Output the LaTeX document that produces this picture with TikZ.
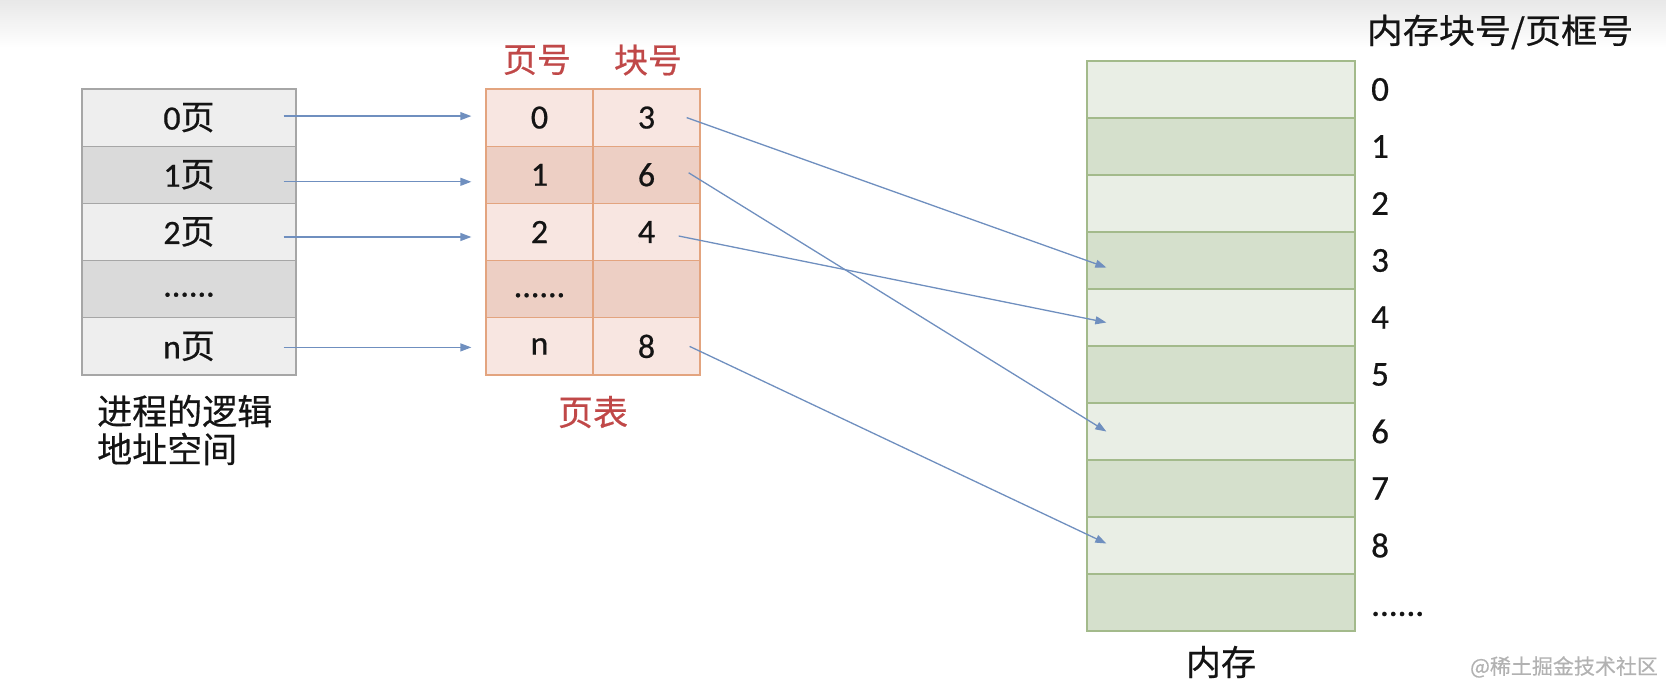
\documentclass[tikz,border=0pt]{standalone}
\usepackage{fontspec}
\setmainfont{Carlito}[FakeBold=0.6]
\newfontfamily\cjk{Noto Sans CJK SC}[FakeBold=0.5]
\usetikzlibrary{arrows.meta}
\definecolor{lgfill}{RGB}{238,238,238}
\definecolor{dgfill}{RGB}{218,218,218}
\definecolor{gborder}{RGB}{166,166,166}
\definecolor{lpfill}{RGB}{248,230,225}
\definecolor{dpfill}{RGB}{237,207,196}
\definecolor{pborder}{RGB}{227,164,127}
\definecolor{lmfill}{RGB}{233,238,229}
\definecolor{dmfill}{RGB}{213,224,204}
\definecolor{mborder}{RGB}{163,186,139}
\definecolor{hdred}{RGB}{192,72,72}
\definecolor{arrblue}{RGB}{111,143,191}
\definecolor{txt}{RGB}{20,20,20}
\begin{document}
\begin{tikzpicture}[x=1pt,y=-1pt,
  cell/.style={draw, line width=1.3pt, minimum height=57.2pt, inner sep=0pt,
    text=txt, font=\fontsize{34}{34}\selectfont},
  lcell/.style={cell, draw=gborder, minimum width=214pt},
  pcell/.style={cell, draw=pborder, minimum width=107pt},
  mcell/.style={cell, draw=mborder, minimum width=268pt, minimum height=57pt},
  lbl/.style={inner sep=0pt, text=txt, font=\fontsize{35}{35}\selectfont\cjk},
  hdr/.style={inner sep=0pt, text=hdred, font=\fontsize{34}{34}\selectfont\cjk},
  num/.style={inner sep=0pt, anchor=west, text=txt, font=\fontsize{35}{35}\selectfont},
  arr/.style={draw=arrblue, line width=1.3pt, -{Triangle[length=11pt,width=8pt]}},
]
\useasboundingbox (0,0) rectangle (1666,682);
\fill[top color=black!9, bottom color=white] (0,0) rectangle (1666,48);

% logical address space
\node[lcell, fill=lgfill] (L0) at (189,117.6) {0{\cjk 页}};
\node[lcell, fill=dgfill] (L1) at (189,174.8) {1{\cjk 页}};
\node[lcell, fill=lgfill] (L2) at (189,232.0) {2{\cjk 页}};
\node[lcell, fill=dgfill] (L3) at (189,289.2) {\raisebox{-15pt}{......}};
\node[lcell, fill=lgfill] (Ln) at (189,346.4) {n{\cjk 页}};
\node[lbl, anchor=west, align=left] (Lbl) at (97,430) {进程的逻辑\\[3pt]地址空间};

% page table
\node[hdr] (H1) at (537,60) {页号};
\node[hdr] (H2) at (648,60) {块号};
\node[pcell, fill=lpfill] (P0) at (539.5,117.6) {0};
\node[pcell, fill=dpfill] (P1) at (539.5,174.8) {1};
\node[pcell, fill=lpfill] (P2) at (539.5,232.0) {2};
\node[pcell, fill=dpfill] (P3) at (539.5,289.2) {\raisebox{-16pt}{......}};
\node[pcell, fill=lpfill] (Pn) at (539.5,346.4) {n};
\node[pcell, fill=lpfill] (B0) at (646.5,117.6) {3};
\node[pcell, fill=dpfill] (B1) at (646.5,174.8) {6};
\node[pcell, fill=lpfill] (B2) at (646.5,232.0) {4};
\node[pcell, fill=dpfill] (B3) at (646.5,289.2) {};
\node[pcell, fill=lpfill] (Bn) at (646.5,346.4) {8};
\node[hdr, font=\fontsize{35}{35}\selectfont\cjk] (PT) at (593,412) {页表};

% memory
\foreach \i/\f in {0/lmfill,1/dmfill,2/lmfill,3/dmfill,4/lmfill,5/dmfill,6/lmfill,7/dmfill,8/lmfill,9/dmfill}{
  \node[mcell, fill=\f] (M\i) at (1221,89.5+57*\i) {};
}
\foreach \i in {0,...,8}{
  \node[num] (N\i) at (1371,89.5+57*\i) {\i};
}
\node[num] (N9) at (1371,614) {......};
\node[lbl, font=\fontsize{34}{34}\selectfont\cjk] (MT) at (1500,32) {\scalebox{1.06}[1]{内存块号/页框号}};
\node[lbl] (MemL) at (1221,662) {内存};
\node[inner sep=0pt, text=black!30, font=\fontsize{21}{21}\selectfont\cjk] (WM) at (1564,667) {@稀土掘金技术社区};

% arrows: logical pages -> page table
\draw[arr] ([xshift=-13pt,yshift=1.5pt]L0.east) -- ([xshift=-14pt,yshift=1.5pt]P0.west);
\draw[arr] ([xshift=-13pt,yshift=-7pt]L1.east) -- ([xshift=-14pt,yshift=-7pt]P1.west);
\draw[arr] ([xshift=-13pt,yshift=-5pt]L2.east) -- ([xshift=-14pt,yshift=-5pt]P2.west);
\draw[arr] ([xshift=-13pt,yshift=-1pt]Ln.east) -- ([xshift=-14pt,yshift=-1pt]Pn.west);

% arrows: page table -> memory blocks
\draw[arr] ([xshift=-14pt]B0.east) -- ([xshift=20pt,yshift=-7pt]M3.west);
\draw[arr] ([xshift=-12pt,yshift=2pt]B1.east) -- ([xshift=20pt]M6.west);
\draw[arr] ([xshift=-22pt,yshift=-4pt]B2.east) -- ([xshift=20pt,yshift=-5pt]M4.west);
\draw[arr] ([xshift=-11pt]Bn.east) -- ([xshift=20pt,yshift=2pt]M8.west);
\end{tikzpicture}
\end{document}
